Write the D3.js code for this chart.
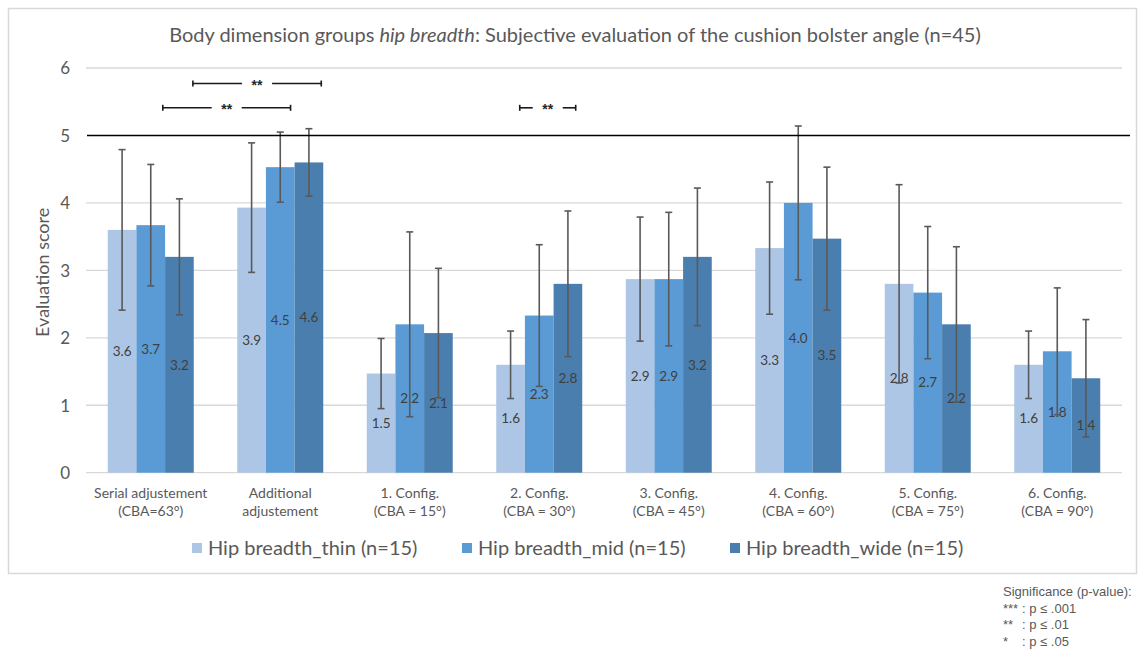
<!DOCTYPE html>
<html>
<head>
<meta charset="utf-8">
<script src="https://cdn.jsdelivr.net/npm/d3@7/dist/d3.min.js"></script>
<style>
  html, body { margin: 0; padding: 0; background: #fff; }
  svg { display: block; }
</style>
</head>
<body>
<svg id="chart" width="1139" height="651"></svg>
<script>
// Categories: two-line x-axis labels
const categories = [
  ["Serial adjustement", "(CBA=63°)"],
  ["Additional", "adjustement"],
  ["1. Config.", "(CBA = 15°)"],
  ["2. Config.", "(CBA = 30°)"],
  ["3. Config.", "(CBA = 45°)"],
  ["4. Config.", "(CBA = 60°)"],
  ["5. Config.", "(CBA = 75°)"],
  ["6. Config.", "(CBA = 90°)"]
];

const seriesNames = ["Hip breadth_thin (n=15)", "Hip breadth_mid (n=15)", "Hip breadth_wide (n=15)"];

// Mean evaluation scores per group
const thinMeans = [3.60, 3.93, 1.47, 1.60, 2.87, 3.33, 2.80, 1.60];
const midMeans  = [3.67, 4.53, 2.20, 2.33, 2.87, 4.00, 2.67, 1.80];
const wideMeans = [3.20, 4.60, 2.07, 2.80, 3.20, 3.47, 2.20, 1.40];

// Standard deviations (error bars)
const thinSD = [1.19, 0.96, 0.52, 0.50, 0.92, 0.98, 1.47, 0.50];
const midSD  = [0.90, 0.52, 1.37, 1.05, 0.99, 1.14, 0.98, 0.94];
const wideSD = [0.86, 0.50, 0.96, 1.08, 1.02, 1.06, 1.15, 0.87];

const yTicks = [0, 1, 2, 3, 4, 5, 6];
const referenceLevel = 5;

// Significance brackets: category index + fraction across the group's bars
const sigBrackets = [
  { fromCat: 0, fromFrac: 0.99, toCat: 1, toFrac: 0.977, level: 5.77, label: "**" },
  { fromCat: 0, fromFrac: 0.64, toCat: 1, toFrac: 0.62,  level: 5.41, label: "**" },
  { fromCat: 3, fromFrac: 0.273, toCat: 3, toFrac: 0.924, level: 5.41, label: "**" }
];

const sigNotes = [
  ["Significance (p-value):", ""],
  ["***", "p ≤ .001"],
  ["**", "p ≤ .01"],
  ["*", "p ≤ .05"]
];

const colors = ["#aec6e6", "#5b9bd5", "#4a7eae"];

const means = [thinMeans, midMeans, wideMeans];
const sds = [thinSD, midSD, wideSD];

const data = categories.map((c, i) => ({
  key: i,
  label: c,
  values: seriesNames.map((s, j) => ({ series: j, mean: means[j][i], sd: sds[j][i] }))
}));

const svg = d3.select("#chart");
const font = "Lato, 'Open Sans', sans-serif";
const textGray = "#595959";

// Chart frame
svg.append("rect")
  .attr("x", 8.5).attr("y", 8.5)
  .attr("width", 1128).attr("height", 565)
  .attr("fill", "#fff").attr("stroke", "#d9d9d9").attr("stroke-width", 1.5);

const plot = { left: 86, right: 1122, top: 68, bottom: 472.7 };

const x0 = d3.scaleBand()
  .domain(data.map(d => d.key))
  .range([plot.left, plot.right])
  .paddingInner(0.336)
  .paddingOuter(0.168);

const x1 = d3.scaleBand()
  .domain(d3.range(seriesNames.length))
  .range([0, x0.bandwidth()]);

const y = d3.scaleLinear().domain([0, 6]).range([plot.bottom, plot.top]);

// Title
const title = svg.append("text")
  .attr("x", 575).attr("y", 42)
  .attr("text-anchor", "middle")
  .attr("font-family", font).attr("font-size", 20)
  .attr("fill", textGray);
title.append("tspan").text("Body dimension groups ");
title.append("tspan").attr("font-style", "italic").text("hip breadth");
title.append("tspan").text(": Subjective evaluation of the cushion bolster angle (n=45)");

// Gridlines
svg.append("g")
  .selectAll("line")
  .data(yTicks.filter(t => t !== referenceLevel))
  .join("line")
  .attr("x1", plot.left).attr("x2", plot.right)
  .attr("y1", d => y(d)).attr("y2", d => y(d))
  .attr("stroke", "#d9d9d9").attr("stroke-width", 1.3);

// Y axis tick labels
const yAxis = d3.axisLeft(y).tickValues(yTicks).tickSize(0).tickPadding(0).tickFormat(d3.format("d"));
const yg = svg.append("g").attr("transform", `translate(${plot.left - 16},0)`).call(yAxis);
yg.select(".domain").remove();
yg.selectAll("text")
  .attr("font-family", font).attr("font-size", 17).attr("fill", textGray)
  .attr("dy", "0.35em");

// Y axis title
svg.append("text")
  .attr("transform", `translate(49,${(plot.top + plot.bottom) / 2 + 2}) rotate(-90)`)
  .attr("text-anchor", "middle")
  .attr("font-family", font).attr("font-size", 18).attr("fill", textGray)
  .text("Evaluation score");

// Bars
const groups = svg.append("g")
  .selectAll("g")
  .data(data)
  .join("g")
  .attr("transform", d => `translate(${x0(d.key)},0)`);

groups.selectAll("rect")
  .data(d => d.values)
  .join("rect")
  .attr("x", d => x1(d.series))
  .attr("y", d => y(d.mean))
  .attr("width", x1.bandwidth())
  .attr("height", d => y(0) - y(d.mean))
  .attr("fill", d => colors[d.series]);

// Value labels centred in the bars
groups.selectAll("text.val")
  .data(d => d.values)
  .join("text")
  .attr("class", "val")
  .attr("x", d => x1(d.series) + x1.bandwidth() / 2)
  .attr("y", d => y(d.mean / 2))
  .attr("dy", "0.35em")
  .attr("text-anchor", "middle")
  .attr("font-family", font).attr("font-size", 13.5).attr("fill", "#404040")
  .text(d => d3.format(".1f")(d.mean));

// Error bars (mean ± SD)
const capHalf = 3.5;
const eb = groups.selectAll("g.err")
  .data(d => d.values)
  .join("g")
  .attr("class", "err")
  .attr("stroke", "#595959").attr("stroke-width", 1.6);
eb.append("line")
  .attr("x1", d => x1(d.series) + x1.bandwidth() / 2)
  .attr("x2", d => x1(d.series) + x1.bandwidth() / 2)
  .attr("y1", d => y(d.mean + d.sd))
  .attr("y2", d => y(d.mean - d.sd));
eb.append("line")
  .attr("x1", d => x1(d.series) + x1.bandwidth() / 2 - capHalf)
  .attr("x2", d => x1(d.series) + x1.bandwidth() / 2 + capHalf)
  .attr("y1", d => y(d.mean + d.sd)).attr("y2", d => y(d.mean + d.sd));
eb.append("line")
  .attr("x1", d => x1(d.series) + x1.bandwidth() / 2 - capHalf)
  .attr("x2", d => x1(d.series) + x1.bandwidth() / 2 + capHalf)
  .attr("y1", d => y(d.mean - d.sd)).attr("y2", d => y(d.mean - d.sd));

// Reference line at score 5
svg.append("line")
  .attr("x1", plot.left + 1).attr("x2", 1130)
  .attr("y1", y(referenceLevel)).attr("y2", y(referenceLevel))
  .attr("stroke", "#000").attr("stroke-width", 1.5);

// X axis category labels
const xl = svg.append("g")
  .selectAll("text")
  .data(data)
  .join("text")
  .attr("x", d => x0(d.key) + x0.bandwidth() / 2)
  .attr("text-anchor", "middle")
  .attr("font-family", font).attr("font-size", 14).attr("fill", textGray);
xl.selectAll("tspan")
  .data(d => d.label.map((t, i) => ({ t, i, x: x0(d.key) + x0.bandwidth() / 2 })))
  .join("tspan")
  .attr("x", d => d.x)
  .attr("y", d => 498 + d.i * 18)
  .text(d => d.t);

// Significance brackets
const sig = svg.append("g").selectAll("g").data(sigBrackets).join("g");
const bx0 = d => x0(d.fromCat) + d.fromFrac * x0.bandwidth();
const bx1 = d => x0(d.toCat) + d.toFrac * x0.bandwidth();
const gapHalf = 15;
const bracketInk = "#1a1a1a";
sig.append("line")
  .attr("x1", bx0).attr("x2", d => (bx0(d) + bx1(d)) / 2 - gapHalf)
  .attr("y1", d => y(d.level)).attr("y2", d => y(d.level))
  .attr("stroke", bracketInk).attr("stroke-width", 1.6);
sig.append("line")
  .attr("x1", d => (bx0(d) + bx1(d)) / 2 + gapHalf).attr("x2", bx1)
  .attr("y1", d => y(d.level)).attr("y2", d => y(d.level))
  .attr("stroke", bracketInk).attr("stroke-width", 1.6);
sig.append("line")
  .attr("x1", bx0).attr("x2", bx0)
  .attr("y1", d => y(d.level) - 3).attr("y2", d => y(d.level) + 3)
  .attr("stroke", bracketInk).attr("stroke-width", 1.6);
sig.append("line")
  .attr("x1", bx1).attr("x2", bx1)
  .attr("y1", d => y(d.level) - 3).attr("y2", d => y(d.level) + 3)
  .attr("stroke", bracketInk).attr("stroke-width", 1.6);
sig.append("text")
  .attr("x", d => (bx0(d) + bx1(d)) / 2)
  .attr("y", d => y(d.level) + 6)
  .attr("text-anchor", "middle")
  .attr("font-family", "'Liberation Sans', Arial, sans-serif").attr("font-size", 14).attr("font-weight", "bold").attr("fill", "#262626")
  .text(d => d.label);

// Legend
const legendX = [192, 462, 730];
const leg = svg.append("g").selectAll("g").data(seriesNames).join("g")
  .attr("transform", (d, i) => `translate(${legendX[i]},548)`);
leg.append("rect")
  .attr("x", 0).attr("y", -5).attr("width", 10).attr("height", 10)
  .attr("fill", (d, i) => colors[i]);
leg.append("text")
  .attr("x", 16).attr("dy", "0.35em")
  .attr("font-family", font).attr("font-size", 20).attr("fill", textGray)
  .text(d => d);

// Significance key
const note = svg.append("g").attr("font-family", "'Liberation Sans', Arial, sans-serif")
  .attr("font-size", 13).attr("fill", textGray);
note.selectAll("text.k")
  .data(sigNotes)
  .join("text")
  .attr("x", 1003)
  .attr("y", (d, i) => 596 + i * 16.5)
  .text(d => d[0]);
note.selectAll("text.c")
  .data(sigNotes.filter(d => d[1]))
  .join("text")
  .attr("class", "c")
  .attr("x", 1022)
  .attr("y", (d, i) => 596 + (i + 1) * 16.5)
  .text(d => ":   " + d[1]);
</script>
</body>
</html>
